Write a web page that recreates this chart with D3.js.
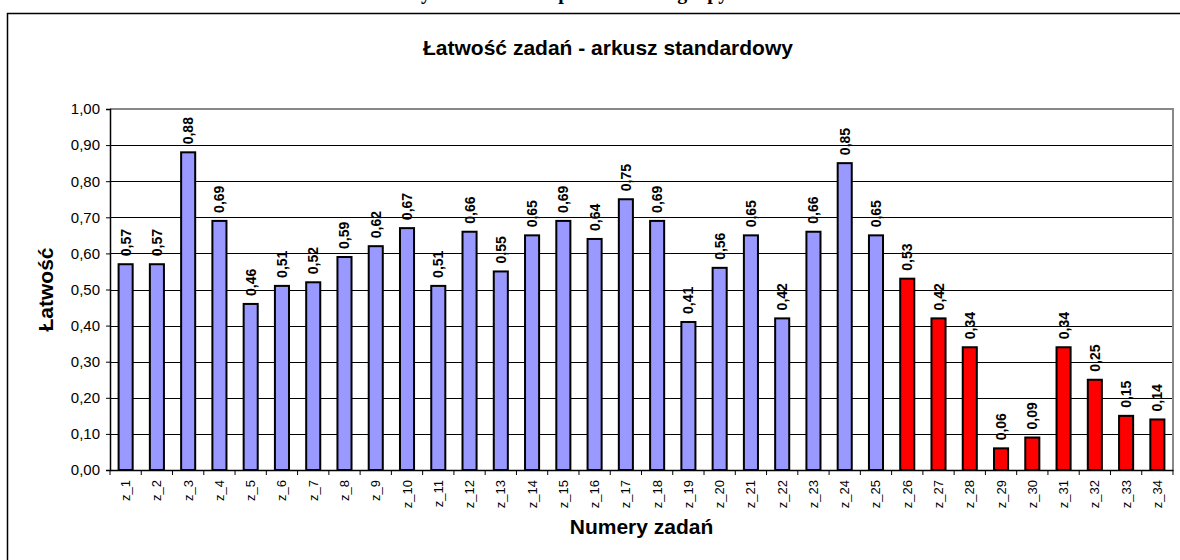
<!DOCTYPE html>
<html>
  <head>
    <meta charset="utf-8">
    <title>Łatwość zadań</title>
    <style>
      body { margin: 0; background: #fff; }
      svg { display: block; }
      text { font-family: Arial, "Liberation Sans", sans-serif; }
    </style>
    <script src="https://d3js.org/d3.v7.min.js"></script>
  </head>
  <body>
    <svg id="chart"></svg>
    <script>
      var width = 1180;
      var height = 560;

      // dane
      var categories = ["z_1","z_2","z_3","z_4","z_5","z_6","z_7","z_8","z_9","z_10",
        "z_11","z_12","z_13","z_14","z_15","z_16","z_17","z_18","z_19","z_20",
        "z_21","z_22","z_23","z_24","z_25","z_26","z_27","z_28","z_29","z_30",
        "z_31","z_32","z_33","z_34"];
      var values = [0.57,0.57,0.88,0.69,0.46,0.51,0.52,0.59,0.62,0.67,
        0.51,0.66,0.55,0.65,0.69,0.64,0.75,0.69,0.41,0.56,
        0.65,0.42,0.66,0.85,0.65,0.53,0.42,0.34,0.06,0.09,
        0.34,0.25,0.15,0.14];
      // zadania z arkusza "rozszerzonego" (czerwone)
      var redFrom = "z_26";
      var yTicks = [0,0.1,0.2,0.3,0.4,0.5,0.6,0.7,0.8,0.9,1.0];

      var plotLeft = 110, plotRight = 1173, plotTop = 109, plotBottom = 470;
      var fmt = function(v) { return d3.format(".2f")(v).replace(".", ","); };

      var svg = d3.select("#chart")
          .attr("width", width)
          .attr("height", height);

      // ucięty nagłówek nad ramką
      svg.append("text")
        .attr("x", 565).attr("y", -1)
        .attr("text-anchor", "middle")
        .style("font-family", "'Liberation Serif', 'Times New Roman', serif")
        .style("font-weight", "bold")
        .style("font-size", "20px")
        .text("Wyniki uczniów z podziałem na grupy");

      // ramka wykresu
      svg.append("rect")
        .attr("x", 7.5).attr("y", 13.5)
        .attr("width", 1200).attr("height", 600)
        .attr("fill", "none").attr("stroke", "#000").attr("stroke-width", 1.5);

      var x = d3.scaleBand().domain(categories).range([plotLeft, plotRight]).paddingInner(0.55).paddingOuter(0.275);
      var xb = d3.scaleBand().domain(categories).range([plotLeft, plotRight]);
      var y = d3.scaleLinear().domain([0, 1]).range([plotBottom, plotTop]);

      // linie siatki
      svg.append("g").selectAll("line")
        .data(yTicks.slice(1, -1))
        .enter().append("line")
        .attr("x1", plotLeft).attr("x2", plotRight)
        .attr("y1", function(d) { return Math.round(y(d)) + 0.5; })
        .attr("y2", function(d) { return Math.round(y(d)) + 0.5; })
        .attr("stroke", "#000").attr("stroke-width", 1);

      // obramowanie obszaru wykresu (szare)
      svg.append("path")
        .attr("d", "M" + plotLeft + "," + plotTop + "H" + plotRight + "V" + plotBottom)
        .attr("fill", "none").attr("stroke", "#888").attr("stroke-width", 2);

      // słupki
      var idxRed = categories.indexOf(redFrom);
      svg.append("g").selectAll("rect")
        .data(values)
        .enter().append("rect")
        .attr("x", function(d, i) { return x(categories[i]); })
        .attr("y", function(d) { return y(d); })
        .attr("width", x.bandwidth())
        .attr("height", function(d) { return y(0) - y(d); })
        .attr("fill", function(d, i) { return i >= idxRed ? "#FF0000" : "#9999FF"; })
        .attr("stroke", "#000").attr("stroke-width", 2);

      // etykiety wartości
      svg.append("g").selectAll("text")
        .data(values)
        .enter().append("text")
        .attr("transform", function(d, i) {
          var cx = x(categories[i]) + x.bandwidth() / 2 + 5;
          return "translate(" + cx + "," + (y(d) - 8) + ") rotate(-90)";
        })
        .style("font-size", "14px").style("font-weight", "bold")
        .text(function(d) { return fmt(d); });

      // oś Y
      var yAxis = d3.axisLeft(y).tickValues(yTicks).tickSize(4).tickPadding(6).tickFormat(fmt);
      var gy = svg.append("g").attr("transform", "translate(" + plotLeft + ",0)").call(yAxis);
      gy.select(".domain").attr("stroke", "#000").attr("stroke-width", 1.5);
      gy.selectAll("text").style("font-size", "15px").style("font-family", "Arial, 'Liberation Sans', sans-serif").attr("fill", "#000");

      // oś X
      var xAxis = d3.axisBottom(xb).tickSize(0).tickFormat("");
      var gx = svg.append("g").attr("transform", "translate(0," + plotBottom + ")").call(xAxis);
      gx.select(".domain").attr("stroke", "#000").attr("stroke-width", 1.5);
      gx.selectAll(".sep")
        .data(categories.concat([null]))
        .enter().append("line")
        .attr("class", "sep")
        .attr("x1", function(d, i) { return plotLeft + i * xb.bandwidth(); })
        .attr("x2", function(d, i) { return plotLeft + i * xb.bandwidth(); })
        .attr("y1", 0).attr("y2", 5)
        .attr("stroke", "#000");

      svg.append("g").selectAll("text")
        .data(categories)
        .enter().append("text")
        .attr("transform", function(d) {
          return "translate(" + (xb(d) + xb.bandwidth() / 2 + 4.5) + "," + (plotBottom + 10) + ") rotate(-90)";
        })
        .attr("text-anchor", "end")
        .style("font-size", "13px")
        .text(function(d) { return d; });

      // tytuły
      svg.append("text")
        .attr("x", 608).attr("y", 55)
        .attr("text-anchor", "middle")
        .style("font-size", "21px").style("font-weight", "bold")
        .text("Łatwość zadań - arkusz standardowy");

      svg.append("text")
        .attr("x", (plotLeft + plotRight) / 2).attr("y", 534)
        .attr("text-anchor", "middle")
        .style("font-size", "21px").style("font-weight", "bold")
        .text("Numery zadań");

      svg.append("text")
        .attr("transform", "translate(53," + ((plotTop + plotBottom) / 2) + ") rotate(-90)")
        .attr("text-anchor", "middle")
        .style("font-size", "21px").style("font-weight", "bold")
        .text("Łatwość");
    </script>
  </body>
</html>
